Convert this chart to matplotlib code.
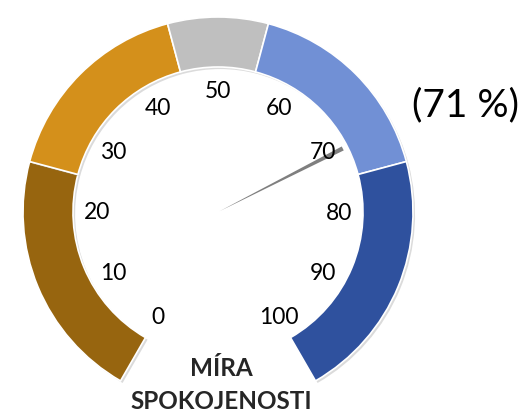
import numpy as np
import matplotlib
matplotlib.use("Agg")
import matplotlib.pyplot as plt
from matplotlib.patches import Wedge, Polygon
import matplotlib.patheffects as pe

# gauge bands (start, end) on the 0-100 scale
band_starts = [0, 25, 45, 55, 75]
band_ends = [25, 45, 55, 75, 100]
band_colors = ["#97650F", "#D4901B", "#BFBFBF", "#7190D5", "#2F519E"]
tick_values = [0, 10, 20, 30, 40, 50, 60, 70, 80, 90, 100]
needle_value = 71
title_lines = ["MÍRA", "SPOKOJENOSTI"]

plt.rcParams['font.family'] = ['Lato', 'DejaVu Sans']

fig = plt.figure(figsize=(5.24, 4.14), dpi=100)
ax = fig.add_axes([0, 0, 1, 1])
ax.set_xlim(0, 524)
ax.set_ylim(0, 414)
ax.set_aspect('equal')
ax.axis('off')

cx, cy = 218, 201
r_out, r_in = 195, 145

def ang(v):
    # 0 at bottom-left, 100 at bottom-right, 300 degree sweep
    return 240 - 3 * v

shadow = [pe.SimplePatchShadow(offset=(1.5, -1.5), shadow_rgbFace='#999999', alpha=0.35),
          pe.Normal()]
for s, e, c in zip(band_starts, band_ends, band_colors):
    w = Wedge((cx, cy), r_out, ang(e), ang(s), width=r_out - r_in,
              facecolor=c, edgecolor='white', linewidth=1.2)
    w.set_path_effects(shadow)
    ax.add_patch(w)

# tick labels
r_lab = 121
for v in tick_values:
    a = np.deg2rad(ang(v))
    ax.text(cx + r_lab * np.cos(a), cy + r_lab * np.sin(a), str(v),
            ha='center', va='center', fontsize=16.5, color='black')

# needle
a = np.deg2rad(ang(needle_value))
L = 140
tip = np.array([cx + L * np.cos(a), cy + L * np.sin(a)])
perp = np.array([-np.sin(a), np.cos(a)])
base = np.array([cx + 2 * np.cos(a), cy + 2 * np.sin(a)])
needle = Polygon([base, tip + 2.2 * perp, tip - 2.2 * perp], closed=True,
                 facecolor='#7F7F7F', edgecolor='none')
ax.add_patch(needle)

ax.text(465, 309, "(%d %%)" % needle_value, ha='center', va='center',
        fontsize=28, color='black')

ax.text(221, 45, title_lines[0], ha='center', va='center', fontsize=17.5,
        fontweight='bold', color='#262626')
ax.text(221, 12, title_lines[1], ha='center', va='center', fontsize=17.5,
        fontweight='bold', color='#262626')

fig.savefig("out.png", dpi=100)
